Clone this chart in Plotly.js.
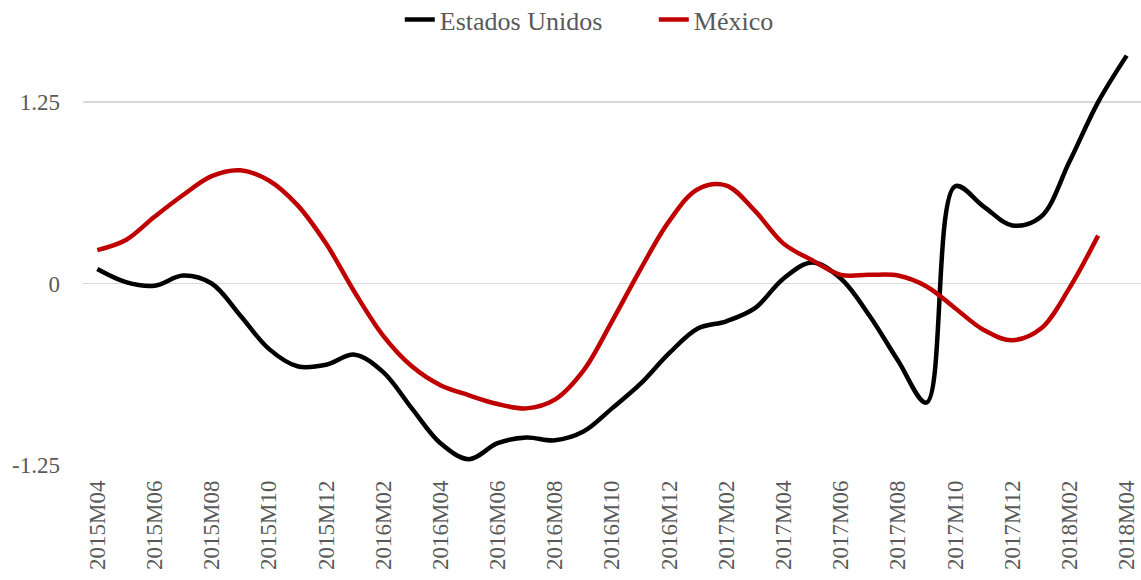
<!DOCTYPE html>
<html>
<head>
<meta charset="utf-8">
<script src="https://cdn.plot.ly/plotly-3.0.1.min.js"></script>
<style>html,body{margin:0;padding:0;background:#fff}#chart{width:1141px;height:580px}</style>
</head>
<body>
<div id="chart"></div>
<script>
const months = ["2015M04","2015M05","2015M06","2015M07","2015M08","2015M09","2015M10","2015M11","2015M12",
  "2016M01","2016M02","2016M03","2016M04","2016M05","2016M06","2016M07","2016M08","2016M09","2016M10","2016M11","2016M12",
  "2017M01","2017M02","2017M03","2017M04","2017M05","2017M06","2017M07","2017M08","2017M09","2017M10","2017M11","2017M12",
  "2018M01","2018M02","2018M03","2018M04"];
const estadosUnidos = [0.10,0.01,-0.015,0.055,0.0,-0.22,-0.45,-0.57,-0.56,
  -0.49,-0.61,-0.86,-1.10,-1.21,-1.10,-1.06,-1.08,-1.02,-0.86,-0.69,-0.48,
  -0.31,-0.26,-0.17,0.035,0.145,0.035,-0.22,-0.53,-0.82,0.67,0.53,0.40,
  0.46,0.84,1.25,1.57];
const mexico = [0.23,0.30,0.46,0.61,0.74,0.78,0.71,0.54,0.275,
  -0.06,-0.36,-0.57,-0.70,-0.77,-0.83,-0.86,-0.80,-0.60,-0.26,0.10,0.43,
  0.65,0.675,0.50,0.275,0.16,0.06,0.06,0.055,-0.02,-0.17,-0.32,-0.39,
  -0.31,-0.03,0.33,null];
const tickLabels = months.filter((m,i)=>i%2===0);
const yTicks = [-1.25, 0, 1.25];
const yTickText = ["-1.25","0","1.25"];

const font = "Liberation Serif, serif";

const traces = [
  {x: months, y: estadosUnidos, name: "Estados Unidos", type: "scatter", mode: "lines",
   line: {color: "#000000", width: 4.5, shape: "spline", smoothing: 1}, cliponaxis: false},
  {x: months, y: mexico, name: "México", type: "scatter", mode: "lines",
   line: {color: "#C00000", width: 4.5, shape: "spline", smoothing: 1}, cliponaxis: false}
];

const layout = {
  width: 1141, height: 580,
  margin: {l: 83, r: 0, t: 44, b: 115},
  paper_bgcolor: "#ffffff", plot_bgcolor: "#ffffff",
  font: {family: font, color: "#595959", size: 22},
  showlegend: true,
  legend: {orientation: "h", xref: "container", yref: "container", x: 0.573, xanchor: "center",
    y: 0.966, yanchor: "middle",
    font: {family: font, size: 26, color: "#595959"}, tracegroupgap: 0, entrywidth: 209, entrywidthmode: "pixels"},
  xaxis: {type: "category", categoryorder: "array", categoryarray: months, automargin: false,
    range: [-0.5, 36.5], tickmode: "array", tickvals: tickLabels, ticktext: tickLabels,
    tickangle: -90, showgrid: false, zeroline: false, showline: false, ticks: "",
    ticklabelstandoff: 10,
    tickfont: {family: font, size: 23, color: "#595959"}},
  yaxis: {range: [-1.25, 1.65], tickmode: "array", tickvals: yTicks, ticktext: yTickText, automargin: false,
    showgrid: true, gridcolor: "#D9D9D9", gridwidth: 1.5, zeroline: false, showline: false,
    ticks: "", ticklabelstandoff: 22, tickfont: {family: font, size: 23, color: "#595959"}}
};

Plotly.newPlot("chart", traces, layout, {displayModeBar: false, staticPlot: true});
</script>
</body>
</html>
